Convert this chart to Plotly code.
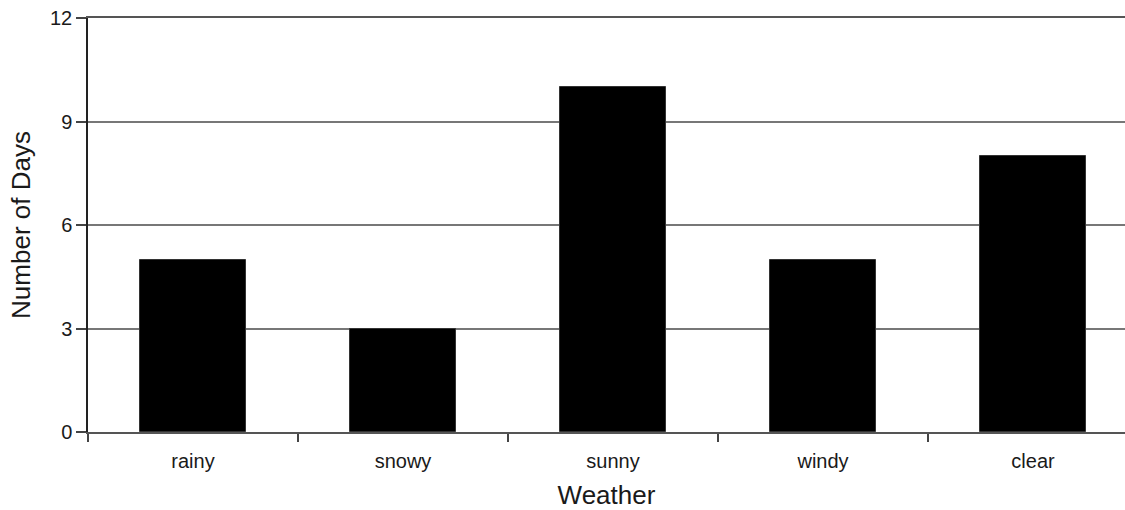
import plotly.graph_objects as go

categories = ["rainy", "snowy", "sunny", "windy", "clear"]
days = [5, 3, 10, 5, 8]
y_ticks = [0, 3, 6, 9, 12]

fig = go.Figure(go.Bar(
    x=categories, y=days,
    marker=dict(color="black", line=dict(color="#333333", width=1)),
    width=0.505,
))

fig.update_layout(
    width=1125, height=510,
    margin=dict(l=88, r=0, t=18, b=78),
    paper_bgcolor="white", plot_bgcolor="white",
    font=dict(family="Liberation Sans, Arial, sans-serif", color="#1a1a1a"),
    showlegend=False,
    bargap=0,
)
fig.update_xaxes(
    range=[-0.5, 4.438],
    tickson="boundaries", ticks="outside", ticklen=8, tickwidth=1.5, tickcolor="#444444",
    ticklabelstandoff=10,
    showline=True, linecolor="#555555", linewidth=1.5, mirror=True,
    showgrid=False,
    tickfont=dict(size=20),
    title=dict(text="Weather", font=dict(size=26), standoff=15),
)
fig.update_yaxes(
    range=[0, 12], tickvals=y_ticks,
    ticks="outside", ticklen=10, tickwidth=1.5, tickcolor="#444444",
    showline=True, linecolor="#222222", linewidth=1.5,
    showgrid=True, gridcolor="#777777", gridwidth=1.5,
    zeroline=False,
    tickfont=dict(size=20),
    title=dict(text="Number of Days", font=dict(size=26), standoff=12),
)

fig.write_html(
    "out.html",
    config={"displayModeBar": False},
    post_script="document.body.style.margin='0';document.body.style.overflow='hidden';",
)
